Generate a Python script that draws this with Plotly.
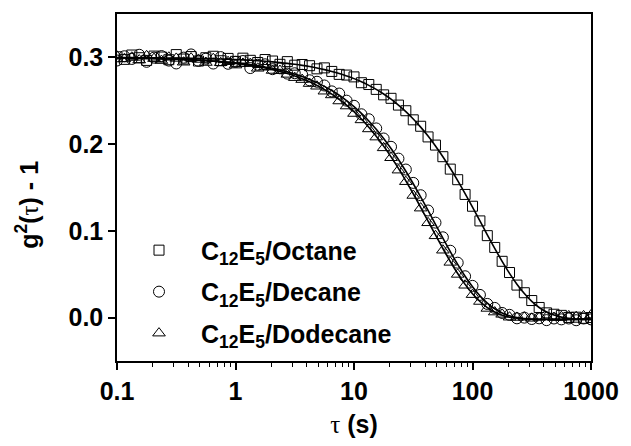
import plotly.graph_objects as go

# lag times (s)
tau = [0.1, 0.11548, 0.13335, 0.15399, 0.17783, 0.20535, 0.23714, 0.27384, 0.31623, 0.36517,
       0.4217, 0.48697, 0.56234, 0.64938, 0.74989, 0.86596, 1.0, 1.1548, 1.3335, 1.5399,
       1.7783, 2.0535, 2.3714, 2.7384, 3.1623, 3.6517, 4.217, 4.8697, 5.6234, 6.4938,
       7.4989, 8.6596, 10.0, 11.548, 13.335, 15.399, 17.783, 20.535, 23.714, 27.384,
       31.623, 36.517, 42.17, 48.697, 56.234, 64.938, 74.989, 86.596, 100.0, 115.48,
       133.35, 153.99, 177.83, 205.35, 237.14, 273.84, 316.23, 365.17, 421.7, 486.97,
       562.34, 649.38, 749.89, 865.96, 1000.0]

# measured g2(tau)-1
octane_data = [0.3007, 0.2977, 0.3027, 0.2996, 0.2965, 0.3015, 0.3004, 0.2973, 0.3032, 0.2981,
               0.3009, 0.2958, 0.2996, 0.3013, 0.2961, 0.2988, 0.2954, 0.2991, 0.2966, 0.2941,
               0.2975, 0.2958, 0.2920, 0.2951, 0.2910, 0.2918, 0.2904, 0.2868, 0.2879, 0.2838,
               0.2804, 0.2796, 0.2775, 0.2708, 0.2687, 0.2631, 0.2568, 0.2528, 0.2450, 0.2385,
               0.2280, 0.2206, 0.2083, 0.1989, 0.1855, 0.1712, 0.1590, 0.1420, 0.1284, 0.1115,
               0.0945, 0.0809, 0.0649, 0.0520, 0.0375, 0.0287, 0.0197, 0.0117, 0.0055, 0.0039,
               0.0026, 0.0002, 0.0005, -0.0008, 0.0001]
decane_data = [0.2964, 0.3013, 0.2982, 0.3030, 0.2949, 0.2997, 0.3015, 0.2963, 0.2930, 0.2997,
               0.3034, 0.2960, 0.2985, 0.2929, 0.3003, 0.2926, 0.2948, 0.2958, 0.2877, 0.2915,
               0.2920, 0.2864, 0.2874, 0.2813, 0.2817, 0.2799, 0.2736, 0.2719, 0.2676, 0.2608,
               0.2583, 0.2501, 0.2442, 0.2344, 0.2287, 0.2181, 0.2065, 0.1969, 0.1833, 0.1707,
               0.1553, 0.1411, 0.1235, 0.1095, 0.0926, 0.0771, 0.0633, 0.0477, 0.0366, 0.0262,
               0.0158, 0.0112, 0.0054, 0.0032, -0.0008, 0.0000, -0.0016, -0.0008, -0.0029, -0.0010,
               -0.0020, -0.0010, -0.0030, -0.0010, -0.0020]
dodecane_data = [0.3013, 0.2982, 0.3001, 0.2969, 0.3018, 0.2986, 0.2963, 0.3001, 0.2988, 0.2944,
                 0.2991, 0.2976, 0.2941, 0.2985, 0.2938, 0.2950, 0.2911, 0.2930, 0.2928, 0.2874,
                 0.2888, 0.2849, 0.2848, 0.2804, 0.2766, 0.2744, 0.2698, 0.2667, 0.2610, 0.2567,
                 0.2497, 0.2439, 0.2353, 0.2279, 0.2175, 0.2081, 0.1957, 0.1843, 0.1700, 0.1567,
                 0.1408, 0.1262, 0.1093, 0.0943, 0.0777, 0.0637, 0.0498, 0.0373, 0.0265, 0.0186,
                 0.0106, 0.0064, 0.0038, 0.0005, 0.0002, 0.0005, -0.0008, 0.0001, 0.0010, 0.0000,
                 0.0010, 0.0020, 0.0010, 0.0020, 0.0030]

# fitted curves
octane_fit = [0.2997, 0.2997, 0.2997, 0.2996, 0.2995, 0.2995, 0.2994, 0.2993, 0.2992, 0.2991,
              0.2989, 0.2988, 0.2986, 0.2983, 0.2981, 0.2978, 0.2974, 0.2971, 0.2966, 0.2961,
              0.2955, 0.2948, 0.2940, 0.2931, 0.2920, 0.2908, 0.2894, 0.2878, 0.2859, 0.2838,
              0.2814, 0.2786, 0.2755, 0.2718, 0.2677, 0.2631, 0.2578, 0.2518, 0.2450, 0.2375,
              0.2290, 0.2196, 0.2093, 0.1979, 0.1855, 0.1722, 0.1580, 0.1430, 0.1274, 0.1115,
              0.0955, 0.0799, 0.0649, 0.0510, 0.0385, 0.0277, 0.0187, 0.0117, 0.0065, 0.0029,
              0.0006, -0.0008, -0.0015, -0.0018, -0.0019]
decane_fit = [0.2994, 0.2993, 0.2992, 0.2990, 0.2989, 0.2987, 0.2985, 0.2983, 0.2980, 0.2977,
              0.2974, 0.2970, 0.2965, 0.2959, 0.2953, 0.2946, 0.2938, 0.2928, 0.2917, 0.2905,
              0.2890, 0.2874, 0.2854, 0.2833, 0.2807, 0.2779, 0.2746, 0.2709, 0.2666, 0.2618,
              0.2563, 0.2501, 0.2432, 0.2354, 0.2267, 0.2171, 0.2065, 0.1949, 0.1823, 0.1687,
              0.1543, 0.1391, 0.1235, 0.1075, 0.0916, 0.0761, 0.0613, 0.0477, 0.0356, 0.0252,
              0.0168, 0.0102, 0.0054, 0.0022, 0.0002, -0.0010, -0.0016, -0.0018, -0.0019, -0.0020,
              -0.0020, -0.0020, -0.0020, -0.0020, -0.0020]
dodecane_fit = [0.2993, 0.2992, 0.2991, 0.2989, 0.2988, 0.2986, 0.2983, 0.2981, 0.2978, 0.2974,
                0.2971, 0.2966, 0.2961, 0.2955, 0.2948, 0.2940, 0.2931, 0.2920, 0.2908, 0.2894,
                0.2878, 0.2859, 0.2838, 0.2814, 0.2786, 0.2754, 0.2718, 0.2677, 0.2630, 0.2577,
                0.2517, 0.2449, 0.2373, 0.2289, 0.2195, 0.2091, 0.1977, 0.1853, 0.1720, 0.1577,
                0.1428, 0.1272, 0.1113, 0.0953, 0.0797, 0.0647, 0.0508, 0.0383, 0.0275, 0.0186,
                0.0116, 0.0064, 0.0028, 0.0005, -0.0008, -0.0015, -0.0018, -0.0019, -0.0020, -0.0020,
                -0.0020, -0.0020, -0.0020, -0.0020, -0.0020]

series_names = ["<b>C<sub>12</sub>E<sub>5</sub>/Octane</b>",
                "<b>C<sub>12</sub>E<sub>5</sub>/Decane</b>",
                "<b>C<sub>12</sub>E<sub>5</sub>/Dodecane</b>"]
x_tickvals = [0.1, 1, 10, 100, 1000]
x_ticktext = ["0.1", "1", "10", "100", "1000"]
y_tickvals = [0.0, 0.1, 0.2, 0.3]
y_ticktext = ["0.0", "0.1", "0.2", "0.3"]

FONT = "Liberation Sans, Arial, sans-serif"
TAU = "<span style='font-family:Liberation Serif;font-weight:normal'>τ</span>"
symbols = ["square-open", "circle-open", "triangle-up-open"]
sizes = [10, 11, 11]
datas = [octane_data, decane_data, dodecane_data]
fits = [octane_fit, decane_fit, dodecane_fit]

fig = go.Figure()
for i, (name, d, sym, sz) in enumerate(zip(series_names, datas, symbols, sizes)):
    fig.add_trace(go.Scatter(x=tau, y=d, mode="markers", name=name, legendgroup="g%d" % i,
                             marker=dict(symbol=sym, size=sz, color="black",
                                         line=dict(color="black", width=1))))
for f in fits:
    fig.add_trace(go.Scatter(x=tau, y=f, mode="lines", showlegend=False,
                             line=dict(color="black", width=1.6, shape="spline")))

axis_common = dict(showline=True, linecolor="black", linewidth=1.5, mirror=True,
                   ticks="outside", tickcolor="black", tickwidth=1.5, ticklen=7,
                   showgrid=False, zeroline=False,
                   tickfont=dict(family=FONT, size=25, color="black"))

fig.update_xaxes(type="log", range=[-1, 3], tickvals=x_tickvals,
                 ticktext=["<b>%s</b>" % t for t in x_ticktext],
                 minor=dict(ticks="outside", ticklen=4, tickcolor="black", tickwidth=1,
                            dtick="D1", showgrid=False),
                 title=dict(text=TAU + "<b> (s)</b>",
                            font=dict(family=FONT, size=25, color="black"), standoff=12),
                 **axis_common)
fig.update_yaxes(range=[-0.05, 0.35], tickvals=y_tickvals,
                 ticktext=["<b>%s</b>" % t for t in y_ticktext],
                 **axis_common)

fig.add_annotation(text="<b>g<sup>2</sup>(</b>" + TAU + "<b>) - 1</b>",
                   xref="paper", yref="paper", x=-0.19, y=0.45,
                   xanchor="center", yanchor="middle", textangle=-90, showarrow=False,
                   font=dict(family=FONT, size=25, color="black"))

fig.update_layout(width=631, height=446,
                  margin=dict(l=117, r=31, t=14, b=78),
                  paper_bgcolor="white", plot_bgcolor="white",
                  font=dict(family=FONT, color="black"),
                  legend=dict(x=0.0, y=0.385, xanchor="left", yanchor="top",
                              bgcolor="rgba(0,0,0,0)", borderwidth=0,
                              itemwidth=74,
                              font=dict(family=FONT, size=25, color="black"),
                              tracegroupgap=6))

fig.write_html("out.html")
